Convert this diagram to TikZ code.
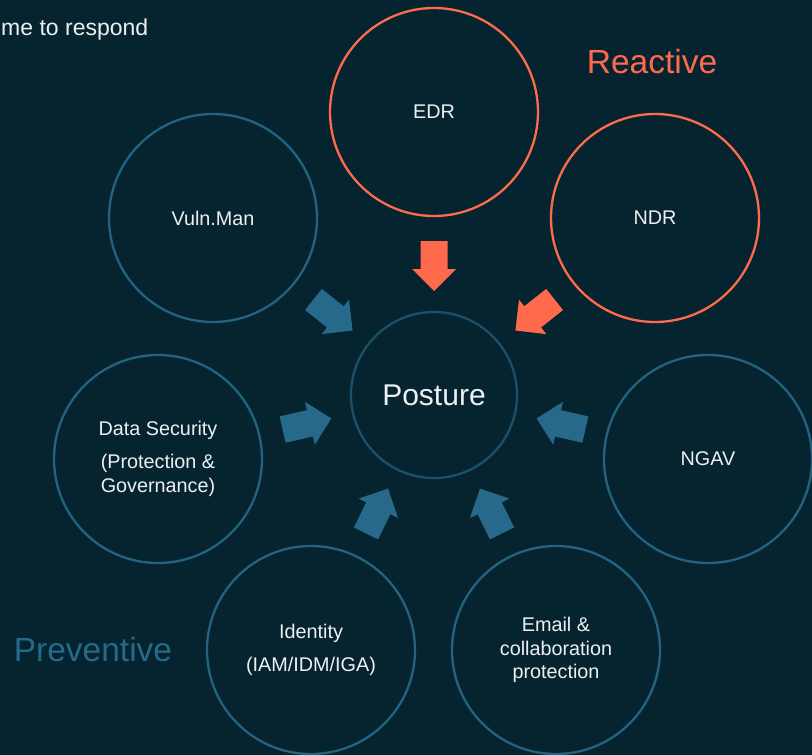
\documentclass[tikz,border=0pt]{standalone}
\usepackage{fontspec}
\setmainfont{Liberation Sans}
\usetikzlibrary{calc}

\definecolor{bgc}{RGB}{6,36,47}
\definecolor{prevc}{RGB}{38,105,138}
\definecolor{prevring}{RGB}{36,98,130}
\definecolor{coreRing}{RGB}{28,80,106}
\definecolor{reactc}{RGB}{255,106,76}
\definecolor{txtc}{RGB}{236,240,242}

% block arrow centred on #1, pointing at #2
\newcommand{\blockarrow}[3]{%
  \coordinate (#1-t) at ($(#1)!-25pt!(#2)$);
  \coordinate (#1-p) at ($(#1)!25pt!(#2)$);
  \coordinate (#1-n) at ($(#1)!3pt!(#2)$);
  \fill[#3] ($(#1-t)!13.5pt!90:(#1-p)$) -- ($(#1-n)!13.5pt!90:(#1-p)$)
    -- ($(#1-n)!22pt!90:(#1-p)$) -- (#1-p) -- ($(#1-n)!22pt!-90:(#1-p)$)
    -- ($(#1-n)!13.5pt!-90:(#1-p)$) -- ($(#1-t)!13.5pt!-90:(#1-p)$) -- cycle;
}

\begin{document}
\begin{tikzpicture}[x=1pt,y=-1pt,
  ring/.style={circle, draw, line width=2.3pt, inner sep=0pt,
    minimum size=208pt, text=txtc, align=center,
    font=\fontsize{19.8}{23.5}\selectfont},
  prevring/.style={ring, draw=prevring},
  reactring/.style={ring, draw=reactc},
  corering/.style={circle, draw=coreRing, line width=2.3pt, inner sep=0pt,
    minimum size=166pt, text=txtc, font=\fontsize{30}{34}\selectfont},
  groupname/.style={font=\fontsize{33.5}{38}\selectfont}]

\fill[bgc] (0,0) rectangle (812,755);
\useasboundingbox (0,0) rectangle (812,755);

% centre
\node[corering] (post) at (434,395) {Posture};

% surrounding capabilities
\node[reactring] (edr) at (434,112) {EDR};
\node[reactring] (ndr) at (655,218) {NDR};
\node[prevring] (vuln) at (213,218) {Vuln.Man};
\node[prevring] (data) at (158,459) {Data Security\\[9.5pt](Protection \&\\Governance)};
\node[prevring] (ngav) at (708,459) {NGAV};
\node[prevring] (iam) at (311,650) {Identity\\[9.5pt](IAM/IDM/IGA)};
\node[prevring] (mail) at (556,650) {Email \&\\collaboration\\protection};

% arrow anchor points
\coordinate (a-edr) at (434,266);
\coordinate (a-ndr) at (535,315);
\coordinate (a-vuln) at (333,315);
\coordinate (a-data) at (307,424);
\coordinate (a-ngav) at (561,424);
\coordinate (a-iam) at (377,511);
\coordinate (a-mail) at (491,511);

\blockarrow{a-edr}{post}{reactc}
\blockarrow{a-ndr}{post}{reactc}
\blockarrow{a-vuln}{post}{prevc}
\blockarrow{a-data}{post}{prevc}
\blockarrow{a-ngav}{post}{prevc}
\blockarrow{a-iam}{post}{prevc}
\blockarrow{a-mail}{post}{prevc}

% labels
\node[groupname, text=reactc] (reactive) at (652,62) {Reactive};
\node[groupname, text=prevc] (preventive) at (93,650) {Preventive};
\node[anchor=base west, inner sep=0pt, text=txtc, font=\fontsize{23}{27}\selectfont]
  (resp) at (1,35) {me to respond};
\end{tikzpicture}
\end{document}
